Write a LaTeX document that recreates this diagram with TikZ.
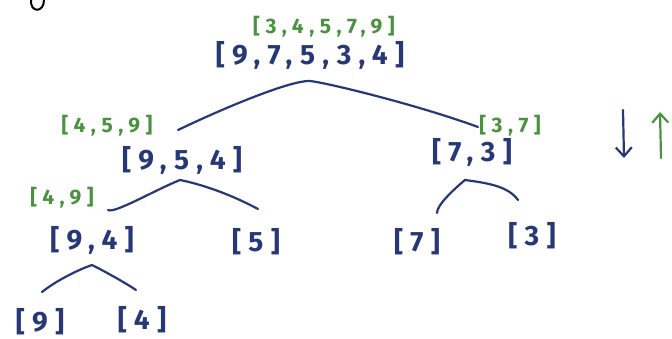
\documentclass[tikz,border=0pt]{standalone}
\usepackage{fontspec}
\usetikzlibrary{arrows.meta, positioning}
\newfontfamily\hand[LetterSpace=26]{Fira Sans}
\newfontfamily\handg[LetterSpace=26]{Fira Sans}
\definecolor{inkblue}{RGB}{38,56,120}
\definecolor{inkgreen}{RGB}{74,146,64}

\begin{document}
\begin{tikzpicture}[
  x=1pt, y=-1pt,
  blu/.style={text=inkblue, inner sep=1pt,
              font=\hand\bfseries\fontsize{28}{30}\selectfont},
  grn/.style={text=inkgreen, inner sep=1pt,
              font=\handg\bfseries\fontsize{21}{23}\selectfont},
  link/.style={draw=inkblue, line width=2.2pt, line cap=round},
  tip/.style={line width=2.2pt, line cap=round,
              -{Straight Barb[length=9pt, width=16pt]}}
]
  \useasboundingbox (0,0) rectangle (672,339);

  % unsorted halves
  \node[blu] (root) at (310,55)  {[9,7,5,3,4]};
  \node[blu] (lft)  at (182,160) {[9,5,4]};
  \node[blu] (rgt)  at (472,152) {[7,3]};
  \node[blu] (ll)   at (92,240)  {[9,4]};
  \node[blu] (lr)   at (256,242) {[5]};
  \node[blu] (rl)   at (417,242) {[7]};
  \node[blu] (rr)   at (532,236) {[3]};
  \node[blu] (lll)  at (40,322)  {[9]};
  \node[blu] (llr)  at (142,320) {[4]};

  % merged results
  \node[grn, above=1pt of root, xshift=14pt] (rootsrt) {[3,4,5,7,9]};
  \node[grn] (lftsrt) at (107,126) {[4,5,9]};
  \node[grn] (rgtsrt) at (510,126) {[3,7]};
  \node[grn] (llsrt)  at (62,198)  {[4,9]};

  % splits
  \draw[link] ([shift={(-4,-30)}]lft.center) .. controls +(50,-24) and +(-18,-1) ..
              ([shift={(0,26)}]root.center) .. controls +(18,2) and +(-60,-22) ..
              ([shift={(6,-25)}]rgt.center);
  \draw[link] ([shift={(16,-30)}]ll.center) .. controls +(6,4) and +(-25,10) ..
              ([shift={(-2,20)}]lft.center) .. controls +(20,4) and +(-30,-16) ..
              ([shift={(2,-33)}]lr.center);
  \draw[link] ([shift={(20,-29)}]rl.center) .. controls +(0,-8) and +(-12,10) ..
              ([shift={(-7,28)}]rgt.center) .. controls +(22,3) and +(-10,-14) ..
              ([shift={(-14,-36)}]rr.center);
  \draw[link] ([shift={(2,-30)}]lll.center) .. controls +(15,-12) and +(-12,4) ..
              ([shift={(0,25)}]ll.center) .. controls +(12,6) and +(-12,-8) ..
              ([shift={(-6,-30)}]llr.center);

  % direction arrows
  \draw[tip, inkblue] (623,110) -- (624,158);
  \draw[tip, inkgreen] (661,158) -- (660,112);

  % cut-off stroke at the corner
  \draw[line width=2pt, line cap=round] (31,0) .. controls (30,13) and (44,13) .. (44,0);
\end{tikzpicture}
\end{document}
